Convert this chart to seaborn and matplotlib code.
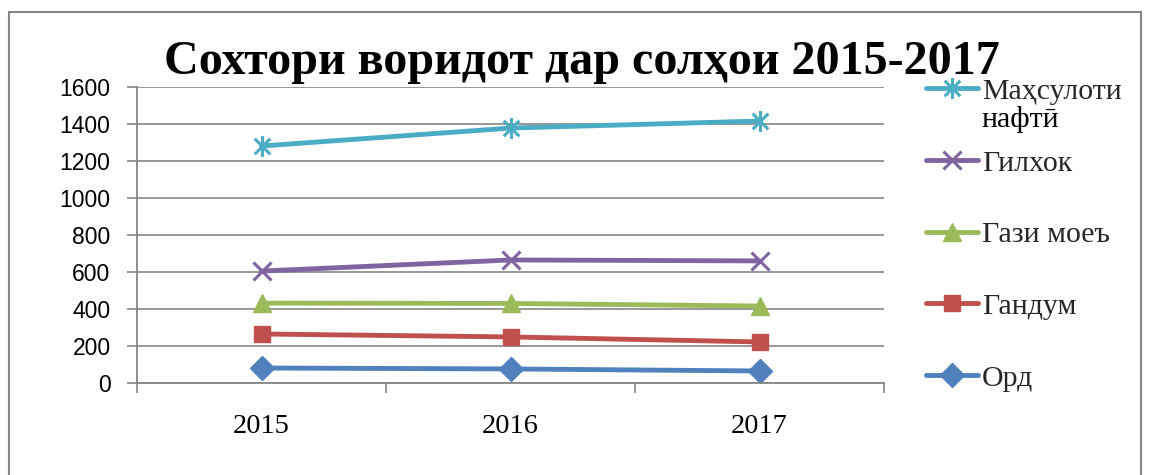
import matplotlib
matplotlib.use("Agg")
import matplotlib.pyplot as plt
import seaborn as sns
import numpy as np
from matplotlib.path import Path
from matplotlib.patches import Rectangle

years = ["2015", "2016", "2017"]
series_names = ["Орд", "Гандум", "Гази моеъ", "Гилхок", "Маҳсулоти"]
label_continuation = "нафтӣ"
ord_vals = [81, 76, 65]
gandum_vals = [265, 249, 222]
gaz_vals = [432, 430, 416]
gilhok_vals = [605, 665, 660]
nafti_vals = [1281, 1378, 1416]
title_text = "Сохтори воридот дар солҳои 2015-2017"
y_ticks = [0, 200, 400, 600, 800, 1000, 1200, 1400, 1600]

colors = ["#4F81BD", "#C0504D", "#9BBB59", "#8064A2", "#4BACC6"]

asterisk = Path([(0, -1), (0, 1), (-0.75, -0.75), (0.75, 0.75), (-0.75, 0.75), (0.75, -0.75)],
                [Path.MOVETO, Path.LINETO, Path.MOVETO, Path.LINETO, Path.MOVETO, Path.LINETO])
markers = ["D", "s", "^", "x", asterisk]
msizes = [12, 12, 13, 13, 15]

sns.set_theme(style="white")
serif = ["Liberation Serif", "DejaVu Serif"]
sans = ["Liberation Sans", "DejaVu Sans"]

fig = plt.figure(figsize=(11.49, 4.75), dpi=100)
ax = fig.add_axes([137/1149, 1-383/475, (884-137)/1149, (383-87)/475])

all_vals = [ord_vals, gandum_vals, gaz_vals, gilhok_vals, nafti_vals]
for name, vals, c, m, ms in zip(series_names, all_vals, colors, markers, msizes):
    filled = m in ("D", "s", "^")
    sns.lineplot(x=years, y=vals, ax=ax, color=c, marker=m, markersize=ms,
                 markeredgecolor=c, markerfacecolor=c if filled else "none",
                 markeredgewidth=1.0 if filled else 2.2,
                 linewidth=3.5, label=name, sort=False)

ax.set_xlim(-0.5, 2.5)
ax.set_ylim(0, 1600)
ax.set_yticks(y_ticks)
ax.set_yticklabels([str(v) for v in y_ticks], fontfamily=sans, fontsize=16.5, color="black")
ax.yaxis.grid(True, color="#868686", linewidth=1.2)
ax.xaxis.grid(False)
ax.set_xticks([0, 1, 2])
ax.set_xticklabels(years, fontfamily=serif, fontsize=20.5, color="black")
ax.set_xticks([-0.5, 0.5, 1.5, 2.5], minor=True)
ax.tick_params(axis="x", which="major", length=0, pad=22)
ax.tick_params(axis="x", which="minor", length=7, width=1.2, color="#868686", direction="out", bottom=True)
ax.tick_params(axis="y", length=7, width=1.2, color="#868686", direction="out", left=True, pad=12)
for s in ["top", "right"]:
    ax.spines[s].set_visible(False)
for s in ["left", "bottom"]:
    ax.spines[s].set_color("#868686")
    ax.spines[s].set_linewidth(1.3)
ax.set_xlabel("")
ax.set_ylabel("")

handles, labels = ax.get_legend_handles_labels()
ax.get_legend().remove()
leg = fig.legend(handles[::-1], labels[::-1], loc="upper left",
                 bbox_to_anchor=(914/1149, 1-66/475), frameon=False,
                 prop={"family": serif, "size": 21.5}, labelspacing=1.5,
                 handlelength=1.75, handletextpad=0.12, borderaxespad=0)

fig.text(0.506, 1-74/475, title_text, ha="center", va="baseline",
         fontfamily=serif, fontsize=34.6, fontweight="bold", color="black")

fig.patches.append(Rectangle((9/1149, -0.05), (1141-9)/1149, 1.05 - 12/475,
                             transform=fig.transFigure, fill=False,
                             edgecolor="#868686", linewidth=1.5))

# second line of the first legend label, placed right below it
fig.canvas.draw()
first = leg.get_texts()[0]
bb = first.get_window_extent(renderer=fig.canvas.get_renderer())
x0, y0 = fig.transFigure.inverted().transform((bb.x0, bb.y0))
fig.text(x0, y0 - 1/475, label_continuation, ha="left", va="top",
         fontfamily=serif, fontsize=21.5, color="black")

fig.savefig("out.png", dpi=100)
